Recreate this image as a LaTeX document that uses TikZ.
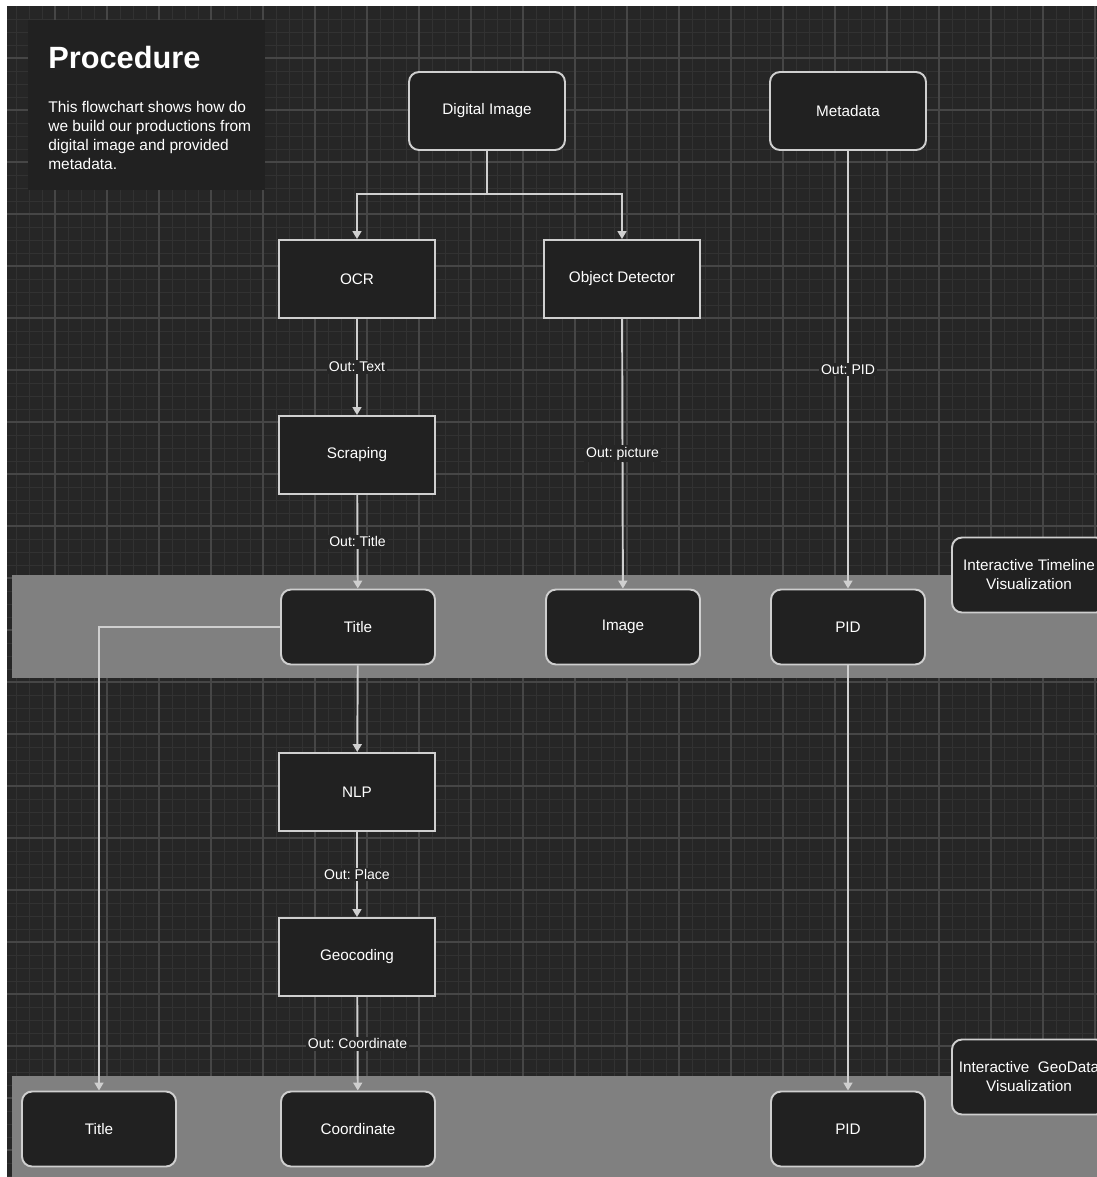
\documentclass[tikz,border=0pt]{standalone}
\usepackage{fontspec}
\setmainfont{Liberation Sans}
\usetikzlibrary{arrows.meta}
\frenchspacing
\definecolor{canvasbg}{HTML}{262626}
\definecolor{gridminor}{HTML}{323232}
\definecolor{gridmajor}{HTML}{464646}
\definecolor{boxfill}{HTML}{212121}
\definecolor{boxline}{HTML}{CFCFCF}
\definecolor{bandgray}{HTML}{808080}
\begin{document}
\begin{tikzpicture}[x=0.02cm, y=-0.02cm,
        stepbox/.style={draw=boxline, line width=1.1pt, fill=boxfill, text=white,
            minimum width=3.12cm, minimum height=1.56cm, font=\fontsize{8.7}{10.8}\selectfont},
        roundbox/.style={stepbox, rounded corners=0.2cm},
        outbox/.style={roundbox, minimum width=3.08cm, minimum height=1.5cm},
        flow/.style={draw=boxline, line width=1.1pt, -{Triangle[width=5pt,length=4.5pt]}},
        outlabel/.style={fill=canvasbg, text=white, inner sep=1pt, font=\fontsize{8}{9.5}\selectfont}]
        \useasboundingbox (0,0) rectangle (1097,1177);
        % canvas and grid
        \fill[white] (0,0) rectangle (1097,1177);
        \fill[canvasbg] (7,6) rectangle (1097,1177);
        \foreach \x in {16,29,...,1097}
            \draw[gridminor, line width=0.4pt] (\x,6) -- (\x,1177);
        \foreach \y in {19,32,...,1177}
            \draw[gridminor, line width=0.4pt] (7,\y) -- (1097,\y);
        \foreach \x in {55,107,...,1097}
            \draw[gridmajor, line width=0.6pt] (\x,6) -- (\x,1177);
        \foreach \y in {58,110,...,1177}
            \draw[gridmajor, line width=0.6pt] (7,\y) -- (1097,\y);

        % heading
        \fill[boxfill] (28,20) rectangle (265,190);
        \node[anchor=base west, inner sep=0pt, text=white, font=\bfseries\fontsize{17.5}{20}\selectfont] (proc) at (48,68) {Procedure};
        \node[anchor=north west, align=left, inner sep=0pt, text=white, font=\fontsize{8.8}{10.8}\selectfont] (desc) at (48,101)
            {This flowchart shows how do\\we build our productions from\\digital image and provided\\metadata.};

        % output bands
        \fill[bandgray] (12,575) rectangle (1097,678);
        \fill[bandgray] (12,1076) rectangle (1097,1177);

        % sources and steps
        \node[roundbox] (dimg) at (487,111) {Digital Image};
        \node[roundbox] (meta) at (848,111) {Metadata};
        \node[stepbox] (ocr) at (357,279) {OCR};
        \node[stepbox] (objdet) at (622,279) {Object Detector};
        \node[stepbox] (scrape) at (357,455) {Scraping};
        \node[stepbox] (nlp) at (357,792) {NLP};
        \node[stepbox] (geocode) at (357,957) {Geocoding};

        % timeline outputs
        \node[outbox] (title1) at (358,627) {Title};
        \node[outbox] (image1) at (623,627) {Image};
        \node[outbox] (pid1) at (848,627) {PID};
        \node[outbox, align=center] (timeline) at (1029,575) {Interactive Timeline\\Visualization};

        % geodata outputs
        \node[outbox] (title2) at (99,1129) {Title};
        \node[outbox] (coord) at (358,1129) {Coordinate};
        \node[outbox] (pid2) at (848,1129) {PID};
        \node[outbox, align=center] (geodata) at (1029,1077) {Interactive~ GeoData\\Visualization};

        % connectors
        \draw[flow] (dimg.south) -- ++(0,43) -| (ocr.north);
        \draw[flow] (dimg.south) -- ++(0,43) -| (objdet.north);
        \draw[flow] (ocr) -- node[outlabel] {Out: Text} (scrape);
        \draw[flow] (scrape) -- node[outlabel] {Out: Title} (title1);
        \draw[flow] (objdet) -- node[outlabel] {Out: picture} (image1);
        \draw[flow] (meta) -- node[outlabel] {Out: PID} (pid1);
        \draw[flow] (title1.west) -| (title2.north);
        \draw[flow] (title1) -- (nlp);
        \draw[flow] (nlp) -- node[outlabel] {Out: Place} (geocode);
        \draw[flow] (geocode) -- node[outlabel] {Out: Coordinate} (coord);
        \draw[flow] (pid1) -- (pid2);
    \end{tikzpicture}
\end{document}
